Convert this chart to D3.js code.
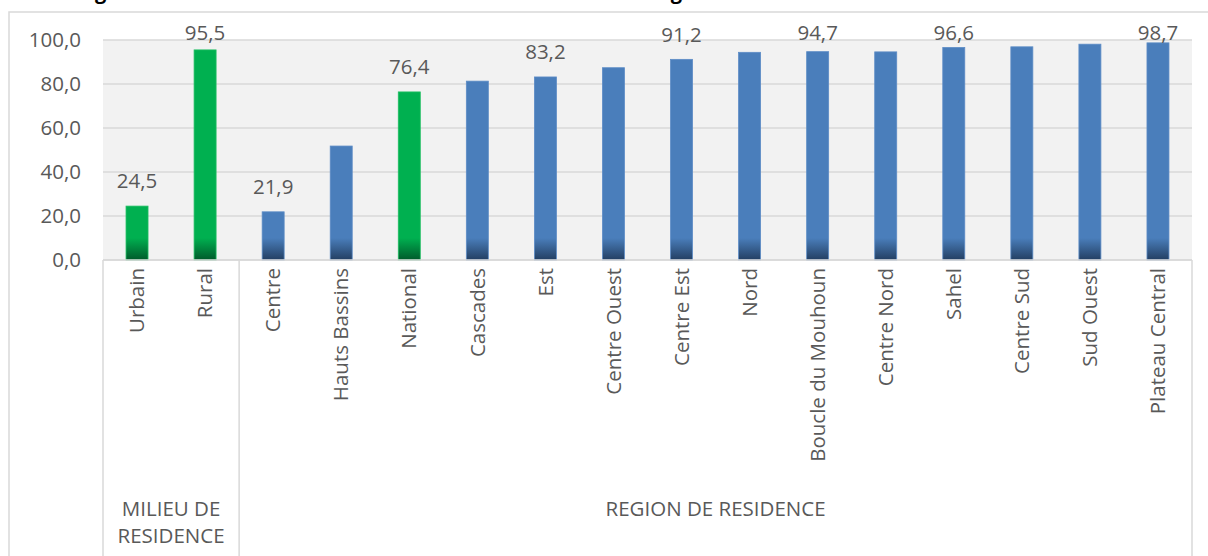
<!DOCTYPE html>
<meta charset="utf-8">
<style>
body { margin: 0; background: #fff; }
text { font-family: "Open Sans", "Liberation Sans", sans-serif; fill: #595959; }
.title { font-weight: bold; fill: #000; }
.grid line { stroke: #d9d9d9; stroke-width: 1.3px; }
.frame { fill: none; stroke: #d9d9d9; stroke-width: 1.5px; }
</style>
<body>
<script src="https://d3js.org/d3.v7.min.js"></script>
<script>

var width = 1208, height = 556;

// data
var categories = ["Urbain", "Rural", "Centre", "Hauts Bassins", "National", "Cascades", "Est",
  "Centre Ouest", "Centre Est", "Nord", "Boucle du Mouhoun", "Centre Nord", "Sahel",
  "Centre Sud", "Sud Ouest", "Plateau Central"];
var values = [24.5, 95.5, 21.9, 51.8, 76.4, 81.3, 83.2, 87.4, 91.2, 94.4, 94.7, 94.6, 96.6, 96.9, 98.1, 98.7];
var green = ["Urbain", "Rural", "National"];
var labelled = ["Urbain", "Rural", "Centre", "National", "Est", "Centre Est", "Boucle du Mouhoun", "Sahel", "Plateau Central"];
var yTicks = [0, 20, 40, 60, 80, 100];
var groups = [
  {name: ["MILIEU DE", "RESIDENCE"], from: "Urbain", to: "Rural"},
  {name: ["REGION DE RESIDENCE"], from: "Centre", to: "Plateau Central"}
];

var margin = {left: 103, right: 16, top: 40};
var plotBottom = 260;
var fs = "20.5px";

var svg = d3.select("body").append("svg")
    .attr("width", width)
    .attr("height", height);

var defs = svg.append("defs");
[["g-green", "#00b050", "#005a2b"], ["g-blue", "#4a7ebb", "#233f62"]].forEach(function(g) {
  var lg = defs.append("linearGradient").attr("id", g[0])
      .attr("gradientUnits", "userSpaceOnUse")
      .attr("x1", 0).attr("x2", 0).attr("y1", plotBottom - 22).attr("y2", plotBottom);
  lg.append("stop").attr("offset", 0).attr("stop-color", g[1]);
  lg.append("stop").attr("offset", 1).attr("stop-color", g[2]);
});

// title (cut off at top in the original)
svg.append("text")
    .attr("class", "title")
    .attr("x", 78).attr("y", -1)
    .style("font-size", "20px")
    .text("Figure 3.4 : Taux de non scolarisation selon le milieu et la région de résidence");

// outer frame
svg.append("path").attr("class", "frame")
    .attr("d", "M9," + height + "V12H" + width);

var x = d3.scaleBand()
    .domain(categories)
    .range([margin.left, width - margin.right]);

var y = d3.scaleLinear()
    .domain([0, 100])
    .range([plotBottom, margin.top]);

svg.append("rect")
    .attr("x", x.range()[0]).attr("y", y(100))
    .attr("width", x.range()[1] - x.range()[0])
    .attr("height", y(0) - y(100))
    .attr("fill", "#f2f2f2");

svg.append("g").attr("class", "grid")
  .selectAll("line").data(yTicks).join("line")
    .attr("x1", x.range()[0]).attr("x2", x.range()[1])
    .attr("y1", d => y(d)).attr("y2", d => y(d));

// y tick labels
svg.append("g").selectAll("text").data(yTicks).join("text")
    .attr("x", 81).attr("y", d => y(d))
    .attr("dy", "0.35em")
    .attr("text-anchor", "end")
    .style("font-size", fs)
    .text(d => d3.format(".1f")(d).replace(".", ","));

// bars
var bw = 22;
svg.append("g").selectAll("rect").data(categories).join("rect")
    .attr("x", d => x(d) + x.bandwidth() / 2 - bw / 2)
    .attr("y", (d, i) => y(values[i]))
    .attr("width", bw)
    .attr("height", (d, i) => y(0) - y(values[i]))
    .attr("fill", d => green.includes(d) ? "url(#g-green)" : "url(#g-blue)")
    .attr("stroke", d => green.includes(d) ? "#1fbf62" : "#5d8cc6")
    .attr("stroke-width", 0.8);

// value labels
svg.append("g").selectAll("text").data(categories.filter(d => labelled.includes(d))).join("text")
    .attr("x", d => x(d) + x.bandwidth() / 2)
    .attr("y", d => Math.max(y(values[categories.indexOf(d)]) - 25, 33))
    .attr("dy", "0.35em")
    .attr("text-anchor", "middle")
    .style("font-size", fs)
    .text(d => d3.format(".1f")(values[categories.indexOf(d)]).replace(".", ","));

// category labels
svg.append("g").selectAll("text").data(categories).join("text")
    .attr("transform", d => "translate(" + (x(d) + x.bandwidth() / 2) + "," + (plotBottom + 8) + ") rotate(-90)")
    .attr("dy", "0.35em")
    .attr("text-anchor", "end")
    .style("font-size", fs)
    .text(d => d);

// axis baseline + group separators
var seps = [x.range()[0], x("Centre"), x.range()[1]];
svg.append("line").attr("class", "frame")
    .attr("x1", x.range()[0]).attr("x2", x.range()[1])
    .attr("y1", plotBottom).attr("y2", plotBottom);
svg.append("g").selectAll("line").data(seps).join("line")
    .attr("class", "frame")
    .attr("x1", d => d).attr("x2", d => d)
    .attr("y1", plotBottom).attr("y2", height);

// group labels
groups.forEach(function(g) {
  var cx = (x(g.from) + x(g.to) + x.bandwidth()) / 2;
  var t = svg.append("text")
      .attr("x", cx).attr("y", 516)
      .attr("text-anchor", "middle")
      .style("font-size", fs);
  g.name.forEach(function(s, i) {
    t.append("tspan").attr("x", cx).attr("dy", i ? 27 : 0).text(s);
  });
});

</script>
